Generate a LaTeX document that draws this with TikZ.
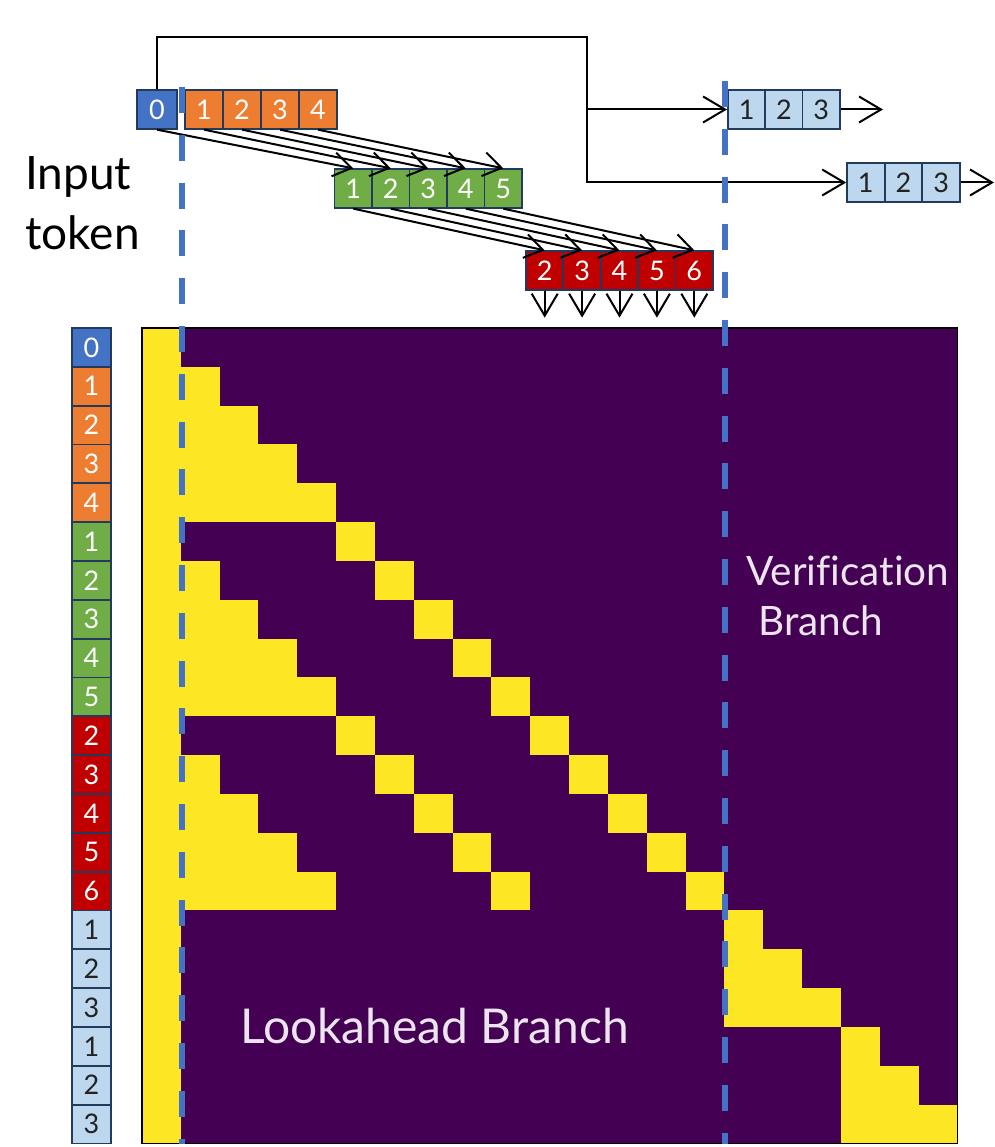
\documentclass[tikz,border=0pt]{standalone}
\usepackage{fontspec}
\setmainfont{Lato}[Ligatures=CommonOff]
\usetikzlibrary{arrows.meta}
\definecolor{tblue}{HTML}{4472C4}
\definecolor{torange}{HTML}{ED7D31}
\definecolor{tgreen}{HTML}{70AD47}
\definecolor{tred}{HTML}{C00000}
\definecolor{tlight}{HTML}{BDD7EE}
\definecolor{navy}{HTML}{223A5E}
\definecolor{purp}{HTML}{440154}
\definecolor{yel}{HTML}{FDE725}
\definecolor{lav}{HTML}{ECE4EE}
\definecolor{dtext}{HTML}{222222}
\begin{document}
\begin{tikzpicture}[x=1pt,y=-1pt,
  tok/.style={draw=navy, line width=1.8pt, minimum width=37.5pt, minimum height=38.5pt,
    inner sep=0pt, text=white, font=\fontsize{27}{27}\selectfont},
  conn/.style={line width=2pt, draw=black},
  tip/.style={-{Straight Barb[length=22pt,width=26pt,line width=2pt]}},
  dtip/.style={-{Straight Barb[length=18pt,width=24pt,line width=2pt]}},
  blued/.style={draw=tblue, line width=6pt, dash pattern=on 26pt off 21.8pt},
  lbl/.style={anchor=base west, inner sep=0pt}
]
\useasboundingbox (0,0) rectangle (994,1147);
\def\mx{142}\def\my{328}\def\cs{38.83}
% ---------- matrix ----------
\fill[purp] (\mx,\my) rectangle ({\mx+21*\cs},{\my+21*\cs});
\fill[yel] (\mx,\my) rectangle ({\mx+\cs},{\my+21*\cs});
\foreach \r/\a/\b in {1/1/1,2/1/2,3/1/3,4/1/4,
  5/5/5,6/1/1,6/6/6,7/1/2,7/7/7,8/1/3,8/8/8,9/1/4,9/9/9,
  10/5/5,10/10/10,11/1/1,11/6/6,11/11/11,12/1/2,12/7/7,12/12/12,
  13/1/3,13/8/8,13/13/13,14/1/4,14/9/9,14/14/14,
  15/15/15,16/15/16,17/15/17,18/18/18,19/18/19,20/18/20}
  \fill[yel] ({\mx+\a*\cs},{\my+\r*\cs}) rectangle ({\mx+(\b+1)*\cs},{\my+(\r+1)*\cs});
\draw[line width=1.5pt] (\mx,\my) rectangle ({\mx+21*\cs},{\my+21*\cs});
% ---------- left labels ----------
\foreach \k/\t/\c/\tc in {0/0/tblue/white,1/1/torange/white,2/2/torange/white,3/3/torange/white,4/4/torange/white,
  5/1/tgreen/white,6/2/tgreen/white,7/3/tgreen/white,8/4/tgreen/white,9/5/tgreen/white,
  10/2/tred/white,11/3/tred/white,12/4/tred/white,13/5/tred/white,14/6/tred/white,
  15/1/tlight/dtext,16/2/tlight/dtext,17/3/tlight/dtext,18/1/tlight/dtext,19/2/tlight/dtext,20/3/tlight/dtext}
  \node[tok, fill=\c, text=\tc, minimum width=39pt, minimum height=38.83pt] (L\k) at (91.5,{\my+(\k+0.5)*\cs}) {\t};
% ---------- top tokens ----------
\node[tok, fill=tblue, minimum width=40pt] (t0) at (157,109.5) {0};
\foreach \i/\x in {1/204,2/242,3/280,4/318}
  \node[tok, fill=torange, minimum width=38pt] (o\i) at (\x,109.5) {\i};
\foreach \i/\x in {1/353.3,2/390.8,3/428.3,4/465.8,5/503.3}
  \node[tok, fill=tgreen] (g\i) at (\x,188.5) {\i};
\foreach \i/\x in {2/544.7,3/582.1,4/619.5,5/656.9,6/694.3}
  \node[tok, fill=tred] (r\i) at (\x,270.5) {\i};
\foreach \i/\x in {1/746.7,2/784,3/821.3}
  \node[tok, fill=tlight, text=dtext] (va\i) at (\x,109.5) {\i};
\foreach \i/\x in {1/865.8,2/903.5,3/941.2}
  \node[tok, fill=tlight, text=dtext] (vb\i) at (\x,182.5) {\i};
% ---------- connectors ----------
\coordinate (turn) at (587,37);
\draw[conn, tip] (t0.north) |- (turn) |- (va1.west);
\draw[conn, tip] (turn |- va1.west) |- (vb1.west);
\coordinate (outa) at (883,109.5);
\coordinate (outb) at (994,182.5);
\draw[conn, tip] (va3.east) -- (outa);
\draw[conn, tip] (vb3.east) -- (outb);
\draw[conn, dtip] (t0.south) -- (g1.north);
\foreach \i/\j in {1/2,2/3,3/4,4/5}
  \draw[conn, dtip] (o\i.south) -- (g\j.north);
\foreach \i/\j in {1/2,2/3,3/4,4/5,5/6}
  \draw[conn, dtip] (g\i.south) -- (r\j.north);
\foreach \i in {2,...,6}
  \draw[conn, tip] (r\i.south) -- ++(0,27) coordinate (dn\i);
% ---------- dashed separators ----------
\coordinate (sa1) at (182,87);
\coordinate (sa2) at (182,1143.5);
\coordinate (sb1) at (725,81);
\coordinate (sb2) at (725,1143.5);
\draw[blued] (sa1) -- (sa2);
\draw[blued] (sb1) -- (sb2);
% ---------- texts ----------
\node[lbl, font=\fontsize{46}{46}\selectfont] (inp1) at (25,190) {Input};
\node[lbl, font=\fontsize{46}{46}\selectfont] (inp2) at (25,250) {token};
\node[lbl, text=lav, font=\fontsize{40.5}{40.5}\selectfont] (ver1) at (746,585) {Verification};
\node[lbl, text=lav, font=\fontsize{40.5}{40.5}\selectfont] (ver2) at (758,635) {Branch};
\node[lbl, text=lav, font=\fontsize{48}{48}\selectfont] (look) at (240,1043) {Lookahead Branch};
\end{tikzpicture}
\end{document}
